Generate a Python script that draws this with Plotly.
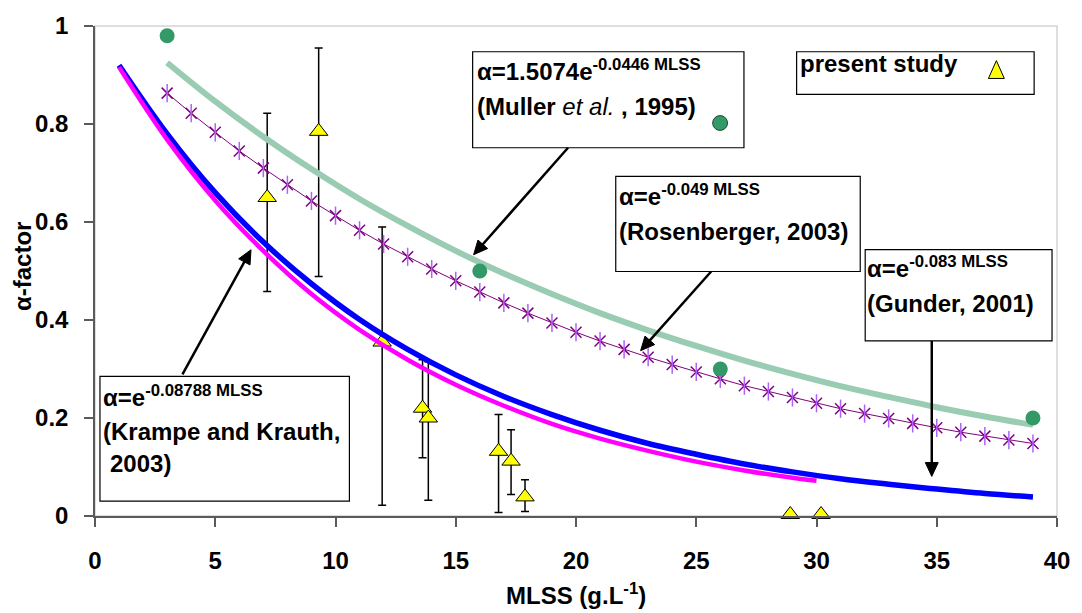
import math
import plotly.graph_objects as go

# ---------------- data ----------------
# present study (triangles with error bars)
ps_x = [7.16, 9.30, 11.94, 13.62, 13.86, 16.78, 17.30, 17.88, 28.91, 30.19]
ps_y = [0.650, 0.785, 0.355, 0.220, 0.200, 0.132, 0.112, 0.039, 0.003, 0.003]
ps_err_up = [0.172, 0.170, 0.235, 0.099, 0.115, 0.075, 0.064, 0.035, 0.0, 0.0]
ps_err_down = [0.192, 0.296, 0.333, 0.101, 0.168, 0.125, 0.068, 0.030, 0.0, 0.0]

# Muller et al. 1995 points and fitted curve
mul_pts_x = [3, 16, 26, 39]
mul_pts_y = [0.98, 0.50, 0.30, 0.20]
mul_fit_x = [3, 5, 7, 9, 11, 13, 15, 17, 19, 21, 23, 25, 27, 29, 31, 33, 35, 37, 39]
mul_fit_y = [0.925, 0.846, 0.774, 0.708, 0.647, 0.592, 0.541, 0.495, 0.453, 0.414,
             0.379, 0.347, 0.317, 0.290, 0.265, 0.243, 0.222, 0.203, 0.186]

# Rosenberger 2003 (asterisk markers at every unit)
ros_x = list(range(3, 40))
ros_y = [0.863, 0.822, 0.783, 0.745, 0.710, 0.676, 0.643, 0.613, 0.583, 0.555,
         0.529, 0.504, 0.480, 0.457, 0.435, 0.414, 0.394, 0.375, 0.357, 0.340,
         0.324, 0.309, 0.294, 0.280, 0.266, 0.254, 0.242, 0.230, 0.219, 0.209,
         0.199, 0.189, 0.180, 0.171, 0.163, 0.155, 0.148]

# Gunder 2001 (blue)
gun_x = [1, 3, 5, 7, 9, 11, 13, 15, 17, 19, 21, 23, 25, 27, 29, 31, 33, 35, 37, 39]
gun_y = [0.920, 0.780, 0.660, 0.559, 0.474, 0.401, 0.340, 0.288, 0.244, 0.207,
         0.175, 0.148, 0.126, 0.106, 0.090, 0.076, 0.065, 0.055, 0.046, 0.039]

# Krampe and Krauth 2003 (magenta)
kra_x = [1, 3, 5, 7, 9, 11, 13, 15, 17, 19, 21, 23, 25, 27, 29, 30]
kra_y = [0.916, 0.768, 0.644, 0.541, 0.453, 0.380, 0.319, 0.268, 0.225, 0.188,
         0.158, 0.133, 0.111, 0.093, 0.078, 0.072]

x_ticks = [0, 5, 10, 15, 20, 25, 30, 35, 40]
y_ticks = [0, 0.2, 0.4, 0.6, 0.8, 1.0]

# ---------------- layout helpers ----------------
W, H = 1082, 613
L, R, T, B = 95, 19, 21, 97
PW, PH = W - L - R, H - T - B
XMAX, YMAX = 40.0, 1.0


def X(px):
    return (px - L) / PW * XMAX


def Y(py):
    return (T + PH - py) / PH * YMAX


def PX(px):
    return (px - L) / PW


def PY(py):
    return (T + PH - py) / PH


FONT = "Liberation Sans, Arial, sans-serif"
FS = 24
TF = dict(family=FONT, size=FS, color="black", weight="bold")

fig = go.Figure()

# present study
fig.add_trace(go.Scatter(
    x=ps_x, y=ps_y, mode="markers", cliponaxis=False,
    marker=dict(symbol="triangle-up", size=16, color="#FFFF00",
                line=dict(color="black", width=1)),
    error_y=dict(type="data", symmetric=False, array=ps_err_up,
                 arrayminus=ps_err_down, color="black", thickness=1.5, width=4),
    showlegend=False))

# Muller fit
fig.add_trace(go.Scatter(x=mul_fit_x, y=mul_fit_y, mode="lines",
                         line=dict(color="#99CCB2", width=6, shape="spline"),
                         showlegend=False))
# Rosenberger
fig.add_trace(go.Scatter(x=ros_x, y=ros_y, mode="lines+markers",
                         line=dict(color="#800080", width=1),
                         marker=dict(symbol="x-thin-open", size=11,
                                     line=dict(color="#800080", width=1.5)),
                         showlegend=False))
fig.add_trace(go.Scatter(x=ros_x, y=ros_y, mode="markers",
                         marker=dict(symbol="line-ns-open", size=13,
                                     line=dict(color="#800080", width=1.5)),
                         showlegend=False))
# Muller points
fig.add_trace(go.Scatter(x=mul_pts_x, y=mul_pts_y, mode="markers", cliponaxis=False,
                         marker=dict(symbol="circle", size=15, color="#339966"),
                         showlegend=False))
# Gunder
fig.add_trace(go.Scatter(x=gun_x, y=gun_y, mode="lines",
                         line=dict(color="#0000FF", width=5.5, shape="spline"),
                         showlegend=False))
# Krampe
fig.add_trace(go.Scatter(x=kra_x, y=kra_y, mode="lines",
                         line=dict(color="#FF00FF", width=4.5, shape="spline"),
                         showlegend=False))

shapes = []
# plot area border (light)
shapes.append(dict(type="rect", xref="x domain", yref="y domain", x0=0, x1=1, y0=0, y1=1,
                   line=dict(color="#D4D4D4", width=1.5), layer="below"))


def box(x0, y0, x1, y1):
    shapes.append(dict(type="rect", xref="x", yref="y", x0=X(x0), x1=X(x1),
                       y0=Y(y1), y1=Y(y0), line=dict(color="black", width=1.2),
                       fillcolor="white", layer="above"))


box(475, 47, 748, 144)      # Muller
box(801, 47, 1040, 90)      # present study
box(619, 173, 865, 269)     # Rosenberger
box(870, 247, 1058, 339)    # Gunder
box(100, 375, 351, 501)     # Krampe

# legend-like symbols inside boxes
shapes.append(dict(type="circle", xref="x", yref="y", x0=X(716.5), x1=X(731.5),
                   y0=Y(126.5), y1=Y(111.5), fillcolor="#339966",
                   line=dict(color="#1E4D33", width=1), layer="above"))
shapes.append(dict(type="path", xref="x", yref="y",
                   path="M {a},{b} L {c},{d} L {e},{f} Z".format(
                       a=X(994), b=Y(74), c=X(1010), d=Y(74), e=X(1002), f=Y(56)),
                   fillcolor="#FFFF00", line=dict(color="black", width=1), layer="above"))


def arrow(sx, sy, tx, ty, head=14.0, half=6.5):
    dx, dy = tx - sx, ty - sy
    d = math.hypot(dx, dy)
    ux, uy = dx / d, dy / d
    bx, by = tx - head * ux, ty - head * uy
    nx, ny = -uy, ux
    shapes.append(dict(type="line", xref="x", yref="y", x0=X(sx), y0=Y(sy),
                       x1=X(bx + 2 * ux), y1=Y(by + 2 * uy),
                       line=dict(color="black", width=2.5), layer="above"))
    shapes.append(dict(type="path", xref="x", yref="y",
                       path="M {:.4f},{:.4f} L {:.4f},{:.4f} L {:.4f},{:.4f} Z".format(
                           X(tx), Y(ty), X(bx + half * nx), Y(by + half * ny),
                           X(bx - half * nx), Y(by - half * ny)),
                       fillcolor="black", line=dict(color="black", width=1), layer="above"))


arrow(571, 144, 476, 252)
arrow(715, 269, 644, 349)
arrow(937, 339, 937, 476)
arrow(183, 373, 252, 247)

annotations = []


def txt(s, px, base, size=FS):
    annotations.append(dict(text=s, xref="paper", yref="paper", x=PX(px), y=PY(base + 5),
                            xanchor="left", yanchor="bottom", showarrow=False,
                            borderpad=0,
                            font=dict(family=FONT, size=size, color="black",
                                      weight="bold")))


txt("α=1.5074e<sup>-0.0446 MLSS</sup>", 478, 77)
txt("(Muller <span style='font-weight:normal'><i>et al.</i></span> , 1995)", 478, 112)
txt("present study", 803, 69)
txt("α=e<sup>-0.049 MLSS</sup>", 621, 203)
txt("α=e<sup>-0.083 MLSS</sup>", 871, 276)
txt("(Rosenberger, 2003)", 621, 238)
txt("(Gunder, 2001)", 871, 311)
txt("α=e<sup>-0.08788 MLSS</sup>", 102, 406)
txt("(Krampe and Krauth,", 102, 440)
txt("2003)", 109, 473)

# axis titles
annotations.append(dict(text="α-factor", xref="paper", yref="paper",
                        x=PX(22), y=PY(264), textangle=-90,
                        xanchor="center", yanchor="middle", showarrow=False,
                        font=dict(family=FONT, size=FS, color="black", weight="bold")))
annotations.append(dict(text="MLSS (g.L<sup>-1</sup>)", xref="paper", yref="paper",
                        x=0.5, y=PY(611), xanchor="center", yanchor="bottom",
                        showarrow=False, borderpad=0,
                        font=dict(family=FONT, size=FS, color="black", weight="bold")))

fig.update_layout(
    width=W, height=H, margin=dict(l=L, r=R, t=T, b=B, pad=0),
    paper_bgcolor="white", plot_bgcolor="white",
    shapes=shapes, annotations=annotations, showlegend=False,
    xaxis=dict(range=[0, XMAX], tickvals=x_ticks, showgrid=False, zeroline=False,
               showline=True, linecolor="#5A5A5A", linewidth=1.5,
               ticks="outside", ticklen=9, tickwidth=1.5, tickcolor="#5A5A5A",
               tickfont=TF, ticklabelstandoff=13),
    yaxis=dict(range=[0, YMAX], tickvals=y_ticks, showgrid=False, zeroline=False,
               showline=True, linecolor="#5A5A5A", linewidth=1.5,
               ticks="outside", ticklen=9, tickwidth=1.5, tickcolor="#5A5A5A",
               tickfont=TF, ticklabelstandoff=11),
)

fig.write_html("out.html")
